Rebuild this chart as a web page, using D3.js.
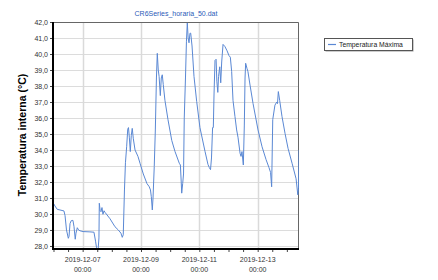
<!DOCTYPE html>
<html>
<head>
<meta charset="utf-8">
<script src="https://cdn.jsdelivr.net/npm/d3@7"></script>
<style>
  body { margin: 0; background: #fff; }
  svg { display: block; font-family: "Liberation Sans", Arial, sans-serif; }
</style>
</head>
<body>
<div id="chart"></div>
<script>
// hourly logger data, hours counted from 2019-12-06 00:00
const startDate = new Date(2019, 11, 6, 0, 0);
const hours = [0, 1.2, 3.1, 5.3, 8.6, 9.5, 10.7, 12.2, 12.8, 13.6, 14.6, 16.0, 16.9, 17.9, 18.5, 19.6, 20.6, 21.8, 24.3, 30.0,
  33.3, 34.6, 35.4, 36.0, 36.6, 37.4, 37.7, 38.4, 39.1, 39.9, 40.7, 41.6, 42.4, 46.5, 50.6, 53.3, 55.5, 56.6, 57.4, 58.4,
  59.2, 60.2, 61.1, 61.7, 62.4, 63.2, 64.0, 64.8, 65.7, 67.1, 69.5, 71.2, 73.9, 76.9, 78.8, 79.8, 80.5, 81.3, 81.9, 82.9,
  83.8, 84.7, 85.4, 86.2, 86.9, 87.9, 88.7, 89.5, 90.3, 91.7, 94.2, 97.3, 100.0, 103.5, 104.4, 105.1, 105.5, 106.3, 107.0, 107.6,
  108.6, 109.4, 110.1, 110.8, 111.5, 112.3, 112.9, 114.0, 115.6, 117.8, 120.5, 124.7, 127.1, 128.2, 129.2, 130.0, 130.9, 131.5, 132.1, 132.9,
  133.8, 134.4, 135.2, 135.8, 136.8, 137.6, 138.4, 139.5, 141.1, 142.8, 144.4, 145.5, 146.6, 147.7, 149.3, 150.7, 151.8, 153.5, 154.3, 155.1,
  156.2, 157.0, 157.6, 158.1, 159.2, 160.0, 161.7, 164.2, 168.3, 171.6, 174.9, 177.3, 178.6, 179.5, 180.4, 182.2, 183.7, 184.3, 185.0, 186.1,
  188.0, 190.5, 193.0, 196.3, 199.6, 201.0, 201.6, 202.0];
const tempMax = [30.66, 30.5, 30.29, 30.25, 30.19, 29.9, 29.0, 28.48, 28.6, 29.4, 29.58, 29.6, 29.2, 28.42, 28.8, 29.14, 29.0, 28.95, 28.9, 28.88,
  28.86, 28.3, 27.9, 27.7, 27.65, 28.5, 30.67, 30.2, 30.14, 30.4, 29.98, 30.2, 30.1, 29.7, 29.2, 29.0, 28.8, 28.54, 28.7, 31.5,
  33.2, 34.2, 35.3, 35.4, 34.8, 33.9, 34.9, 35.35, 34.7, 34.0, 33.6, 33.17, 32.5, 31.9, 31.7, 31.5, 31.08, 30.25, 31.0, 32.96,
  35.25, 38.5, 40.04, 39.0, 38.6, 37.4, 38.5, 38.7, 38.1, 37.1, 35.9, 34.6, 33.9, 33.17, 33.06, 32.0, 31.3, 31.9, 32.5, 36.0,
  38.5, 40.8, 41.94, 41.0, 40.7, 41.3, 41.3, 40.5, 38.6, 37.04, 35.4, 33.9, 33.1, 32.9, 32.77, 33.5, 35.4, 35.4, 37.5, 39.6,
  39.67, 38.3, 37.6, 38.6, 39.2, 38.2, 39.5, 40.6, 40.46, 40.2, 39.9, 39.8, 38.9, 37.1, 36.1, 35.25, 34.8, 33.8, 33.6, 33.9,
  33.06, 35.5, 38.5, 39.42, 39.1, 38.9, 38.06, 36.9, 35.25, 34.2, 33.4, 32.9, 32.6, 31.7, 35.9, 36.8, 37.0, 36.9, 37.65, 37.1,
  36.1, 35.04, 34.1, 33.17, 32.2, 31.2, 31.6, 34.0];

const yTicks = [28, 29, 30, 31, 32, 33, 34, 35, 36, 37, 38, 39, 40, 41, 42];
const xLabelDays = ["2019-12-07", "2019-12-09", "2019-12-11", "2019-12-13"];
const chartTitle = "CR6Series_horaria_50.dat";
const yTitle = "Temperatura interna (°C)";
const seriesName = "Temperatura Máxima";

const width = 438, height = 280;
const margin = {top: 22, right: 139, bottom: 31, left: 53};
const innerW = width - margin.left - margin.right;
const innerH = height - margin.top - margin.bottom;
const lineColor = "#5a88d4";

const data = hours.map((h, i) => ({date: new Date(startDate.getTime() + h * 3600e3), v: tempMax[i]}));

const svg = d3.select("#chart").append("svg")
  .attr("width", width).attr("height", height);

const g = svg.append("g").attr("transform", `translate(${margin.left},${margin.top})`);

const x = d3.scaleTime()
  .domain([new Date(2019, 11, 5, 23, 36), new Date(2019, 11, 14, 10, 0)])
  .range([0, innerW]);

const y = d3.scaleLinear()
  .domain([27.81, 42.0])
  .range([innerH, 0]);

const fmt = d3.formatLocale({decimal: ",", thousands: ".", grouping: [3], currency: ["", ""]}).format(".1f");
const labelDates = xLabelDays.map(s => d3.timeParse("%Y-%m-%d")(s));

// grid
g.append("g").selectAll("line").data(yTicks).join("line")
  .attr("x1", 0).attr("x2", innerW)
  .attr("y1", d => Math.round(y(d)) + 0.5).attr("y2", d => Math.round(y(d)) + 0.5)
  .attr("stroke", "#dcdcdc");
g.append("g").selectAll("line").data(labelDates).join("line")
  .attr("x1", d => Math.round(x(d)) + 0.5).attr("x2", d => Math.round(x(d)) + 0.5)
  .attr("y1", 0).attr("y2", innerH)
  .attr("stroke", "#dadada").attr("stroke-width", 1.5);

// frame top/right
g.append("path")
  .attr("d", `M0,0.5H${innerW - 0.5}V${innerH}`)
  .attr("fill", "none").attr("stroke", "#666");

// line
svg.append("clipPath").attr("id", "clip")
  .append("rect").attr("width", innerW).attr("height", innerH);

g.append("path")
  .datum(data)
  .attr("clip-path", "url(#clip)")
  .attr("fill", "none")
  .attr("stroke", lineColor)
  .attr("stroke-width", 1)
  .attr("d", d3.line().x(d => x(d.date)).y(d => y(d.v)));

// y axis
const yAxis = g.append("g")
  .call(d3.axisLeft(y).tickValues(yTicks).tickSize(3).tickFormat(fmt));
yAxis.select(".domain").remove();
yAxis.selectAll("text").attr("font-size", 7).attr("fill", "#333").attr("x", -5);
yAxis.selectAll(".tick line").attr("stroke", "#444");

// x axis
const xAxis = g.append("g")
  .attr("transform", `translate(0,${innerH})`)
  .call(d3.axisBottom(x).ticks(d3.timeHour.every(12)).tickSize(3).tickFormat(""));
xAxis.select(".domain").remove();
xAxis.selectAll(".tick line").attr("stroke", "#444");

const xLab = g.append("g").attr("font-size", 7).attr("fill", "#333").attr("text-anchor", "middle");
labelDates.forEach(d => {
  const t = xLab.append("text").attr("transform", `translate(${x(d)},${innerH + 13})`);
  t.append("tspan").attr("x", 0).attr("y", 0).text(d3.timeFormat("%Y-%m-%d")(d));
  t.append("tspan").attr("x", 0).attr("y", 10).text(d3.timeFormat("%H:%M")(d));
});

// left + bottom axis lines
g.append("path")
  .attr("d", `M0,0V${innerH}H${innerW}`)
  .attr("fill", "none").attr("stroke", "#000").attr("stroke-width", 2);

// titles
svg.append("text")
  .attr("x", margin.left + innerW / 2).attr("y", 16)
  .attr("text-anchor", "middle").attr("font-size", 7).attr("fill", "#2b5bb8")
  .text(chartTitle);

svg.append("text")
  .attr("transform", `translate(23,135) rotate(-90)`)
  .attr("text-anchor", "middle").attr("dominant-baseline", "middle")
  .attr("font-size", 10.5).attr("font-weight", "bold").attr("fill", "#000")
  .text(yTitle);

// legend
const lg = svg.append("g").attr("transform", "translate(324,38)");
lg.append("rect").attr("x", 1.5).attr("y", 1.5).attr("width", 88).attr("height", 12).attr("fill", "#999");
lg.append("rect").attr("x", 0.5).attr("y", 0.5).attr("width", 88).attr("height", 12)
  .attr("fill", "#fff").attr("stroke", "#555");
lg.append("line").attr("x1", 4).attr("x2", 12).attr("y1", 6.5).attr("y2", 6.5)
  .attr("stroke", lineColor).attr("stroke-width", 1.2);
lg.append("text").attr("x", 15).attr("y", 9).attr("font-size", 6.8).attr("fill", "#222")
  .text(seriesName);
</script>
</body>
</html>
